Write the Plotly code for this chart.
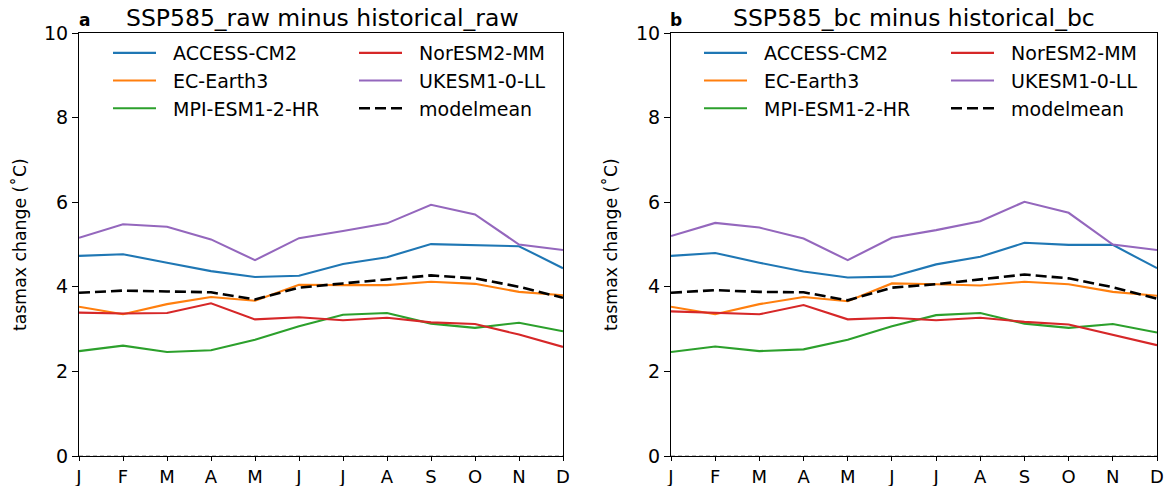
import plotly.graph_objects as go

# ---------------- data ----------------
months = ["J", "F", "M", "A", "M", "J", "J", "A", "S", "O", "N", "D"]
month_idx = list(range(12))
y_ticks = [0, 2, 4, 6, 8, 10]

model_names = ["ACCESS-CM2", "EC-Earth3", "MPI-ESM1-2-HR", "NorESM2-MM", "UKESM1-0-LL", "modelmean"]
model_colors = ["#1f77b4", "#ff7f0e", "#2ca02c", "#d62728", "#9467bd", "black"]

# panel a: SSP585_raw minus historical_raw
access_raw = [4.73, 4.77, 4.57, 4.37, 4.23, 4.26, 4.54, 4.70, 5.01, 4.98, 4.96, 4.44]
ec_raw     = [3.53, 3.35, 3.59, 3.76, 3.67, 4.05, 4.04, 4.04, 4.12, 4.07, 3.88, 3.80]
mpi_raw    = [2.48, 2.61, 2.46, 2.50, 2.75, 3.07, 3.34, 3.38, 3.13, 3.03, 3.15, 2.95]
nor_raw    = [3.39, 3.37, 3.38, 3.61, 3.23, 3.28, 3.21, 3.27, 3.16, 3.12, 2.87, 2.58]
uk_raw     = [5.16, 5.48, 5.42, 5.12, 4.63, 5.15, 5.32, 5.50, 5.94, 5.71, 5.00, 4.87]
mean_raw   = [3.86, 3.91, 3.89, 3.87, 3.70, 3.98, 4.08, 4.17, 4.27, 4.20, 4.00, 3.74]

# panel b: SSP585_bc minus historical_bc
access_bc = [4.73, 4.80, 4.57, 4.36, 4.22, 4.24, 4.53, 4.71, 5.04, 4.99, 4.99, 4.44]
ec_bc     = [3.53, 3.35, 3.59, 3.76, 3.66, 4.08, 4.06, 4.03, 4.12, 4.06, 3.88, 3.79]
mpi_bc    = [2.46, 2.59, 2.48, 2.52, 2.75, 3.07, 3.33, 3.38, 3.13, 3.03, 3.12, 2.92]
nor_bc    = [3.42, 3.38, 3.35, 3.57, 3.23, 3.27, 3.21, 3.27, 3.17, 3.11, 2.87, 2.62]
uk_bc     = [5.20, 5.51, 5.40, 5.14, 4.63, 5.16, 5.34, 5.55, 6.01, 5.75, 5.00, 4.87]
mean_bc   = [3.86, 3.92, 3.88, 3.87, 3.68, 3.98, 4.06, 4.18, 4.29, 4.20, 3.99, 3.72]

panel_titles = ["SSP585_raw minus historical_raw", "SSP585_bc minus historical_bc"]
panel_letters = ["a", "b"]
y_title = "tasmax change (˚C)"

series_a = [access_raw, ec_raw, mpi_raw, nor_raw, uk_raw, mean_raw]
series_b = [access_bc, ec_bc, mpi_bc, nor_bc, uk_bc, mean_bc]

# ---------------- figure ----------------
FONT = "DejaVu Sans"
W, H = 1167, 486
ML, MR, MT, MB = 79, 10, 33, 30
PW = W - ML - MR
PH = H - MT - MB


def px_x(p):
    return (p - ML) / PW


def px_y(p):
    return (H - MB - p) / PH


fig = go.Figure()

legend_ids = [["legend", "legend", "legend", "legend2", "legend2", "legend2"],
              ["legend3", "legend3", "legend3", "legend4", "legend4", "legend4"]]

for pi, (series, xa, ya) in enumerate([(series_a, "x", "y"), (series_b, "x2", "y2")]):
    for k, (name, col, vals) in enumerate(zip(model_names, model_colors, series)):
        is_mean = name == "modelmean"
        fig.add_trace(go.Scatter(
            x=month_idx, y=vals, mode="lines", name="\u00a0\u00a0" + name,
            line=dict(color=col, width=2.6 if is_mean else 2.1,
                      dash="11px,5px" if is_mean else "solid"),
            xaxis=xa, yaxis=ya, legend=legend_ids[pi][k],
            showlegend=True,
        ))

axis_common = dict(showline=True, linecolor="black", linewidth=1.2, mirror=True,
                   ticks="outside", tickwidth=1.2, tickcolor="black",
                   showgrid=False, zeroline=False, automargin=False)

x0a, x1a = px_x(79), px_x(563)
x0b, x1b = px_x(671), px_x(1157)

xfont = dict(family=FONT, size=18, color="black")
yfont = dict(family=FONT, size=19, color="black")

fig.update_layout(
    width=W, height=H,
    margin=dict(l=ML, r=MR, t=MT, b=MB, autoexpand=False),
    paper_bgcolor="white", plot_bgcolor="white",
    font=dict(family=FONT, color="black"),
    xaxis=dict(domain=[x0a, x1a], range=[0, 11], tickvals=month_idx, ticktext=months,
               ticklen=4, tickfont=xfont, **axis_common),
    xaxis2=dict(domain=[x0b, x1b], range=[0, 11], tickvals=month_idx, ticktext=months,
                anchor="y2", ticklen=4, tickfont=xfont, **axis_common),
    yaxis=dict(domain=[0, 1], range=[0, 10], tickvals=y_ticks, ticklen=6, tickfont=yfont,
               **axis_common),
    yaxis2=dict(domain=[0, 1], range=[0, 10], tickvals=y_ticks, anchor="x2", ticklen=6,
                tickfont=yfont, **axis_common),
)

leg_common = dict(bgcolor="rgba(0,0,0,0)", borderwidth=0, orientation="v",
                  xanchor="left", yanchor="top", itemwidth=43,
                  font=dict(family=FONT, size=19, color="black"), itemclick=False)
leg_top = px_y(34)
fig.update_layout(
    legend=dict(x=px_x(108), y=leg_top, **leg_common),
    legend2=dict(x=px_x(354), y=leg_top, **leg_common),
    legend3=dict(x=px_x(699), y=leg_top, **leg_common),
    legend4=dict(x=px_x(946), y=leg_top, **leg_common),
)

# zero reference line
for xr, yr in [("x", "y"), ("x2", "y2")]:
    fig.add_shape(type="line", xref=xr, yref=yr, x0=0, x1=11, y0=0, y1=0,
                  line=dict(color="gray", width=1, dash="4px,3px"), layer="above")

# titles and panel letters
for pi, (cx, lx) in enumerate([(322, 84), (914, 676)]):
    fig.add_annotation(text=panel_titles[pi], xref="paper", yref="paper",
                       x=px_x(cx), y=px_y(18), xanchor="center", yanchor="middle",
                       showarrow=False, font=dict(family=FONT, size=23.5, color="black"))
    fig.add_annotation(text="<b>" + panel_letters[pi] + "</b>", xref="paper", yref="paper",
                       x=px_x(lx), y=px_y(20), xanchor="center", yanchor="middle",
                       showarrow=False, font=dict(family=FONT, size=17, color="black"))

# y axis titles
for cx in [20, 611]:
    fig.add_annotation(text=y_title, xref="paper", yref="paper",
                       x=px_x(cx), y=px_y(245), xanchor="center", yanchor="middle",
                       textangle=-90, showarrow=False,
                       font=dict(family=FONT, size=17.3, color="black"))

fig.write_html("out.html")
